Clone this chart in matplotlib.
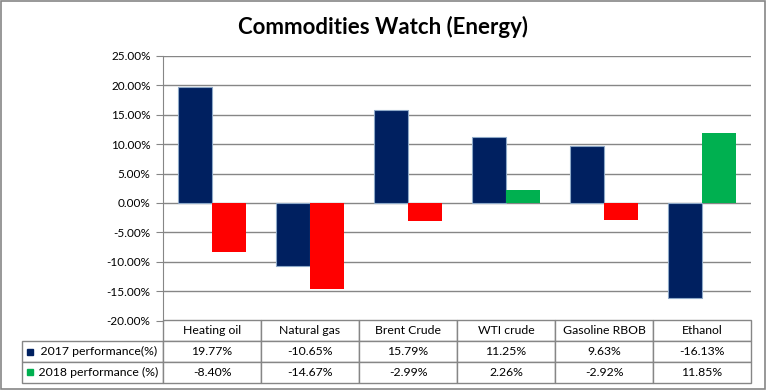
import numpy as np
import matplotlib.pyplot as plt
from matplotlib.patches import Rectangle

categories = ['Heating oil', 'Natural gas', 'Brent Crude', 'WTI crude', 'Gasoline RBOB', 'Ethanol']
perf_2017 = [19.77, -10.65, 15.79, 11.25, 9.63, -16.13]
perf_2018 = [-8.40, -14.67, -2.99, 2.26, -2.92, 11.85]
label_2017 = '2017 performance(%)'
label_2018 = '2018 performance (%)'

navy = '#002060'
red = '#FF0000'
green = '#00B050'
gray = '#868686'

plt.rcParams['font.family'] = ['Lato', 'DejaVu Sans']

fig = plt.figure(figsize=(7.67, 3.90), dpi=100)
ax = fig.add_axes([163/767, 1-320.5/390, 588/767, 264.5/390])

x = np.arange(len(categories))
w = 0.347
ax.bar(x - w/2, perf_2017, w, color=navy, edgecolor='#8EA9C8', lw=0.8, zorder=3)
c18 = [green if v >= 0 else red for v in perf_2018]
ax.bar(x + w/2, perf_2018, w, color=c18, zorder=3)

ax.set_xlim(-0.5, len(categories) - 0.5)
ax.set_ylim(-20, 25)
ax.set_yticks(np.arange(-20, 26, 5))
ax.set_yticklabels(['%.2f%%' % t for t in np.arange(-20, 26, 5)], fontsize=8.5)
ax.set_xticks([])
ax.yaxis.grid(True, color=gray, lw=1)
ax.set_axisbelow(True)
for s in ['top', 'right', 'bottom']:
    ax.spines[s].set_visible(False)
ax.spines['left'].set_color(gray)
ax.tick_params(axis='y', length=5, color=gray, pad=4)

# data table under the chart
rows = [[''] + categories,
        ['    ' + label_2017] + ['%.2f%%' % v for v in perf_2017],
        ['    ' + label_2018] + ['%.2f%%' % v for v in perf_2018]]
lab_w = 141 / 588
th = 62 / 264.5
col_w = [lab_w] + [1/6] * 6
tbl = ax.table(cellText=rows, colWidths=col_w, cellLoc='center',
               bbox=[-lab_w, -th, 1 + lab_w, th])
tbl.auto_set_font_size(False)
tbl.set_fontsize(8.8)
for (r, c), cell in tbl.get_celld().items():
    cell.set_edgecolor(gray)
    cell.set_linewidth(1)
    if c == 0:
        cell._loc = 'left'
        cell.PAD = 0.02
    if r == 0 and c == 0:
        cell.set_visible(False)

# legend keys in the table
ax.plot(-lab_w + 0.014, -th * 0.5, 's', color=navy, ms=5, transform=ax.transAxes, clip_on=False)
ax.plot(-lab_w + 0.014, -th * 0.833, 's', color=green, ms=5, transform=ax.transAxes, clip_on=False)

fig.text(383/767, 1-27/390, 'Commodities Watch (Energy)', ha='center', va='center',
         fontsize=16, fontweight='bold')
fig.patches.append(Rectangle((0.001, 0.002), 0.997, 0.995, transform=fig.transFigure,
                             fill=False, edgecolor=gray, lw=1.2))

plt.savefig('out.png', dpi=100)
